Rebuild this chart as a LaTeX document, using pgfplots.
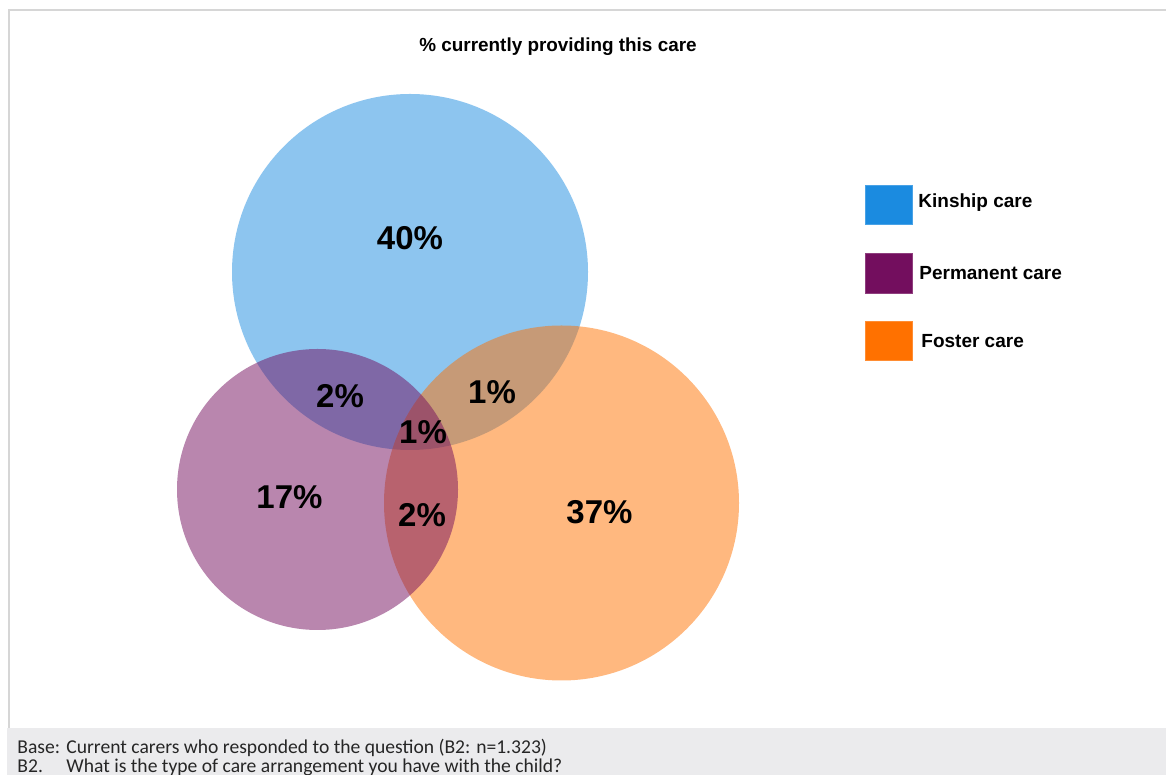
\documentclass[border=0pt]{standalone}
\usepackage{fontspec}
\setmainfont{Liberation Sans}
\newfontfamily\footfont{Carlito}
\usepackage{pgfplots}
\pgfplotsset{compat=1.18}
\definecolor{kin}{HTML}{1B8BE0}
\definecolor{perm}{HTML}{730E5E}
\definecolor{fos}{HTML}{FF7100}
\definecolor{footgray}{HTML}{EBEBED}
\definecolor{framegray}{HTML}{D6D6D6}
\begin{document}
\begin{tikzpicture}
\begin{axis}[width=583pt,height=387.5pt,scale only axis,set layers,
  xmin=0,xmax=1166,ymin=0,ymax=775,axis lines=none,clip=false]
\coordinate (SW) at (rel axis cs:0,0);
\coordinate (NE) at (rel axis cs:1,1);
% footer band
\addplot[fill=footgray,draw=none] coordinates {(7,-2)(1168,-2)(1168,47)(7,47)} -- cycle;
% frame
\addplot[draw=framegray,line width=1pt] coordinates {(8.5,47)(8.5,765)(1168,765)};
% circles: (cx, cy) with radius given by mark size (1 unit = 0.5pt)
\addplot[only marks,mark=*,mark size=89pt,fill opacity=0.5,draw opacity=0,mark options={fill=kin}] coordinates {(410,503)};
\addplot[only marks,mark=*,mark size=88.75pt,fill opacity=0.5,draw opacity=0,mark options={fill=fos}] coordinates {(561.5,272)};
\addplot[only marks,mark=*,mark size=70.25pt,fill opacity=0.5,draw opacity=0,mark options={fill=perm}] coordinates {(317.5,285.5)};
% legend boxes
\addplot[fill=kin,draw=kin!80!white,line width=0.3pt] coordinates {(865,551)(912,551)(912,590)(865,590)} -- cycle;
\addplot[fill=perm,draw=perm!80!white,line width=0.3pt] coordinates {(865,482)(912,482)(912,522)(865,522)} -- cycle;
\addplot[fill=fos,draw=fos!80!white,line width=0.3pt] coordinates {(865,415)(912,415)(912,454)(865,454)} -- cycle;
\begin{pgfonlayer}{axis foreground}
% legend text
\node[anchor=west,font=\fontsize{9.5}{11}\selectfont\bfseries,inner sep=0pt] at (axis cs:918,572) {Kinship care};
\node[anchor=west,font=\fontsize{9.5}{11}\selectfont\bfseries,inner sep=0pt] at (axis cs:919,502) {Permanent care};
\node[anchor=west,font=\fontsize{9.5}{11}\selectfont\bfseries,inner sep=0pt] at (axis cs:921,434) {Foster care};
% title
\node[font=\fontsize{9.45}{11}\selectfont\bfseries,inner sep=0pt] at (axis cs:558,728) {\% currently providing this care};
% region labels
\begin{scope}[every node/.style={font=\fontsize{16.5}{18}\selectfont\bfseries,inner sep=0pt,text=black}]
\node at (axis cs:410,537) {40\%};
\node at (axis cs:340,379) {2\%};
\node at (axis cs:492,383) {1\%};
\node at (axis cs:423,343) {1\%};
\node at (axis cs:289.5,278) {17\%};
\node at (axis cs:422,260) {2\%};
\node at (axis cs:599.5,263) {37\%};
\end{scope}
% footer text
\begin{scope}[every node/.style={font=\footfont\fontsize{9.8}{11}\selectfont,inner sep=0pt,anchor=base west,text=black!85}]
\node at (axis cs:17,21) {Base:};
\node at (axis cs:66,21) {Current carers who responded to the question (B2: n=1.323)};
\node at (axis cs:17,2) {B2.};
\node at (axis cs:66,2) {What is the type of care arrangement you have with the child?};
\end{scope}
\end{pgfonlayer}
\end{axis}
\pgfresetboundingbox
\path (SW) rectangle (NE);
\end{tikzpicture}
\end{document}
